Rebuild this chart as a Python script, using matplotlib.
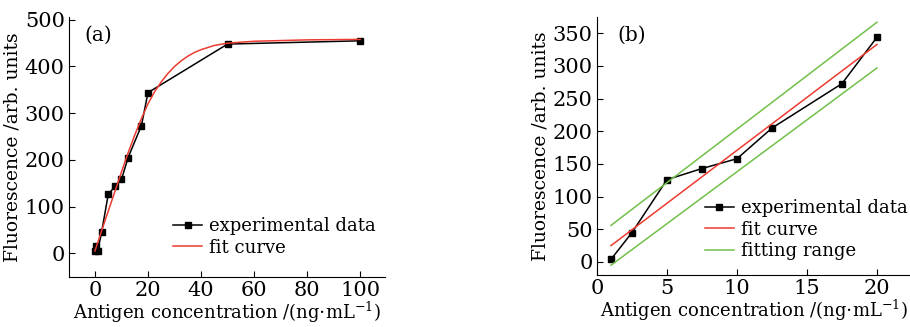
import numpy as np
import matplotlib
matplotlib.use("Agg")
import matplotlib.pyplot as plt

plt.rcParams['font.family'] = ['DejaVu Serif']
plt.rcParams['mathtext.fontset'] = 'dejavuserif'

# datos experimentales
conc = [0, 0.5, 1, 2.5, 5, 7.5, 10, 12.5, 17.5, 20, 50, 100]
fluor = [5, 16, 4, 45, 126, 143, 158, 205, 273, 344, 448, 455]

# curva de ajuste (a)
fit_x = [0, 2.5, 5, 7.5, 10, 12.5, 15, 17.5, 20, 22.5, 25, 27.5, 30, 32.5, 35, 37.5, 40,
         45, 50, 60, 80, 100]
fit_y = [5, 48, 90, 132, 174, 215, 253, 288, 320, 346, 367, 385, 400, 412, 422, 430, 436,
         445, 450, 454, 457, 458]

# rango lineal (b)
lin_x = [1, 20]
lin_fit = [25, 333]
lin_up = [56, 367]
lin_low = [-5, 297]

xlabel = r'Antigen concentration /(ng$\cdot$mL$^{-1}$)'
ylabel = 'Fluorescence /arb. units'
rojo = '#ec3b30'
verde = '#72c04a'
fs = 13
fs_ticks = 15

fig = plt.figure(figsize=(9.1, 3.27), dpi=100)
ax1 = fig.add_axes([69/910, 50/327, 316/910, 260/327])
ax2 = fig.add_axes([597/910, 52/327, 313/910, 258/327])

for ax in (ax1, ax2):
    ax.spines['top'].set_visible(False)
    ax.spines['right'].set_visible(False)
    ax.tick_params(direction='in', length=4, labelsize=fs_ticks, pad=3)
    ax.set_xlabel(xlabel, fontsize=fs, labelpad=0)
    ax.set_ylabel(ylabel, fontsize=13.5, labelpad=2)

# --- panel (a) ---
ax1.plot(conc, fluor, color='black', lw=1.1, marker='s', ms=4.5, label='experimental data')
ax1.plot(fit_x, fit_y, color=rojo, lw=1.1, label='fit curve')
ax1.set_xlim(-9.8, 109.4)
ax1.set_ylim(-51, 506)
ax1.set_xticks(np.arange(0, 101, 20))
ax1.set_yticks(np.arange(0, 501, 100))
ax1.text(0.05, 0.93, '(a)', transform=ax1.transAxes, fontsize=14.5, va='center')
ax1.legend(loc='upper left', bbox_to_anchor=(0.33, 0.23), frameon=False, fontsize=fs,
           borderpad=0, borderaxespad=0, handlelength=1.6, handletextpad=0.4, labelspacing=0.2)

# --- panel (b) ---
sel = slice(2, 10)
ax2.plot(conc[sel], fluor[sel], color='black', lw=1.1, marker='s', ms=4.5, label='experimental data')
ax2.plot(lin_x, lin_fit, color=rojo, lw=1.1, label='fit curve')
ax2.plot(lin_x, lin_up, color=verde, lw=1.1, label='fitting range')
ax2.plot(lin_x, lin_low, color=verde, lw=1.1)
ax2.set_xlim(0, 22.36)
ax2.set_ylim(-20, 375)
ax2.set_xticks(np.arange(0, 21, 5))
ax2.set_yticks(np.arange(0, 351, 50))
ax2.text(0.064, 0.93, '(b)', transform=ax2.transAxes, fontsize=14.5, va='center')
ax2.legend(loc='upper left', bbox_to_anchor=(0.345, 0.295), frameon=False, fontsize=fs,
           borderpad=0, borderaxespad=0, handlelength=1.6, handletextpad=0.4, labelspacing=0.2)

fig.savefig('out.png', dpi=100)
